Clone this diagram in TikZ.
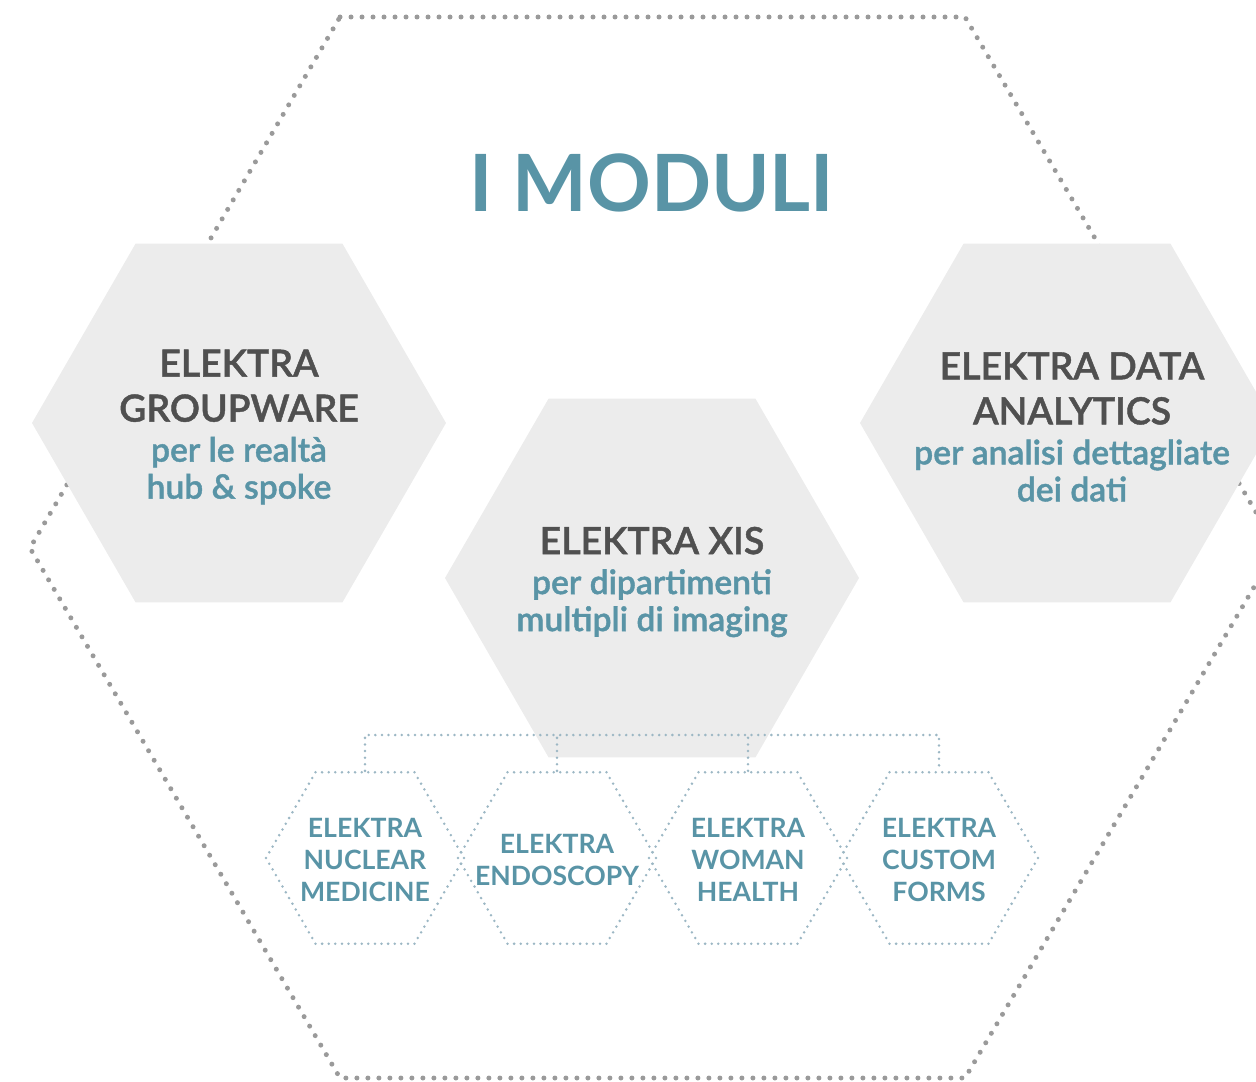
\documentclass[tikz,border=0pt]{standalone}
\usepackage{fontspec}
\setmainfont{Lato}
\newfontfamily\semi{Lato Semibold}[AutoFakeBold=1.2]
\usetikzlibrary{positioning,shapes.geometric}

\definecolor{modblue}{HTML}{5994A6}
\definecolor{moddark}{HTML}{505050}
\definecolor{modgrey}{HTML}{ECECEC}
\definecolor{framegrey}{HTML}{9A9A9A}
\definecolor{linkblue}{HTML}{9CB7C4}

\newcommand{\dk}[1]{{\color{moddark}\semi\bfseries #1}}
\newcommand{\bl}[1]{{\color{modblue}\fontsize{16.8}{19}\selectfont\bfseries #1}}

\begin{document}
\begin{tikzpicture}[x=0.5pt,y=-0.5pt,font=\bfseries]
\tikzstyle{bighex}=[regular polygon,regular polygon sides=6,fill=modgrey,inner sep=0pt,minimum size=207pt]
\tikzstyle{bigtext}=[align=center,inner sep=0pt,yshift=-2pt,font=\semi\fontsize{18.7}{22.5}\selectfont]
\tikzstyle{smallhex}=[regular polygon,regular polygon sides=6,draw=linkblue,line width=1.4pt,dash pattern=on 0pt off 3.3pt,line cap=round,inner sep=0pt,minimum size=99pt]
\tikzstyle{smalltext}=[align=center,inner sep=0pt,yshift=-1pt,text=modblue,font=\bfseries\fontsize{13.3}{16}\selectfont]
\tikzstyle{link}=[draw=linkblue,line width=1.4pt,dash pattern=on 0pt off 3.3pt,line cap=round]

\useasboundingbox (0,0) rectangle (1256,1081);

%outer dotted frame
\draw[framegrey,line width=2.5pt,dash pattern=on 0pt off 5.5pt,line cap=round]
  (340,17) -- (965,17) -- (1277,548) -- (965,1078) -- (340,1078) -- (30,548) -- cycle;

%title
\node[text=modblue,font=\bfseries\fontsize{39.5}{44}\selectfont] (title) at (652,183) {I MODULI};

%grey modules
\node[bighex,label={[bigtext]center:\dk{ELEKTRA}\\\dk{GROUPWARE}\\[-2.5pt]\bl{per le realtà}\\[-4pt]\bl{hub \& spoke}}] (gw) at (239,423) {};
\node[bighex,label={[bigtext]center:\dk{ELEKTRA XIS}\\[-2.5pt]\bl{per dipartimenti}\\[-4pt]\bl{multipli di imaging}}] (xis) at (652,578) {};
\node[bighex,label={[bigtext,xshift=2.5pt]center:\dk{ELEKTRA DATA}\\\dk{ANALYTICS}\\[-2.5pt]\bl{per analisi dettagliate}\\[-4pt]\bl{dei dati}}] (da) at (1067,423) {};

%sub modules of xis
\coordinate (bus) at (652,735);
\node[smallhex,label={[smalltext]center:ELEKTRA\\NUCLEAR\\MEDICINE}] (nm) at (365,858) {};
\node[smallhex,label={[smalltext]center:ELEKTRA\\ENDOSCOPY}] (en) at (557,858) {};
\node[smallhex,label={[smalltext]center:ELEKTRA\\WOMAN\\HEALTH}] (wh) at (748,858) {};
\node[smallhex,label={[smalltext]center:ELEKTRA\\CUSTOM\\FORMS}] (cf) at (939,858) {};

%dotted links
\draw[link] (nm.north) -- (nm.north |- bus) -- (cf.north |- bus) -- (cf.north);
\draw[link] (en.north) -- (en.north |- bus);
\draw[link] (wh.north) -- (wh.north |- bus);
\end{tikzpicture}
\end{document}
